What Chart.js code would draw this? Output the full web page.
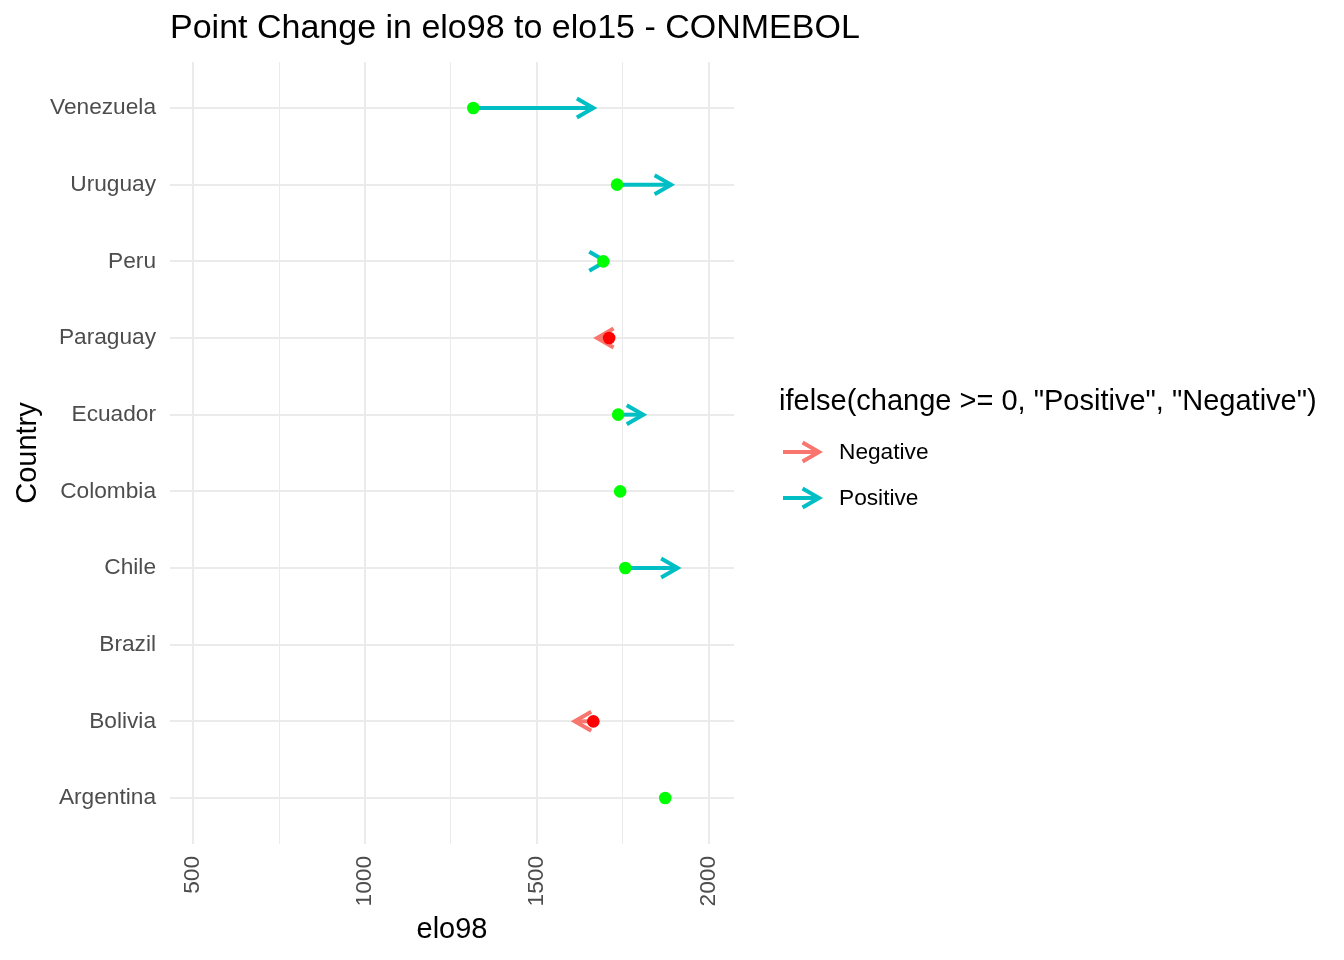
<!DOCTYPE html>
<html>
<head>
<meta charset="utf-8">
<title>Point Change in elo98 to elo15 - CONMEBOL</title>
<script src="https://cdn.jsdelivr.net/npm/chart.js@4.4.1/dist/chart.umd.min.js"></script>
<style>
  html, body { margin: 0; padding: 0; background: #ffffff; }
  #chart-wrap { width: 1344px; height: 960px; }
</style>
</head>
<body>
<div id="chart-wrap"><canvas id="elo-chart" width="1344" height="960"></canvas></div>
<script>
// countries bottom to top, as on the y axis
const countries = ["Argentina", "Bolivia", "Brazil", "Chile", "Colombia",
  "Ecuador", "Paraguay", "Peru", "Uruguay", "Venezuela"];
const elo98 = [1873, 1664, null, 1757, 1742, 1736, 1710, 1693, 1733, 1315];
const elo15 = [null, 1610, null, 1909, null, 1809, 1675, 1700, 1890, 1664];
const xTicks = [500, 750, 1000, 1250, 1500, 1750, 2000];
const legendLabels = ["Negative", "Positive"];

const chartTitle = "Point Change in elo98 to elo15 - CONMEBOL";
const legendTitle = 'ifelse(change >= 0, "Positive", "Negative")';
const positiveColor = "#00BFC4";
const negativeColor = "#F8766D";
const fontFamily = "'Liberation Sans', Arial, sans-serif";

Chart.defaults.font.family = fontFamily;

function drawArrow(ctx, x0, y, x1, color) {
  const dir = x1 >= x0 ? 1 : -1;
  const len = 19;
  const ang = Math.PI / 6;
  const bx = x1 - dir * len * Math.cos(ang);
  const dy = len * Math.sin(ang);

  ctx.save();
  ctx.strokeStyle = color;
  ctx.lineWidth = 4;
  ctx.lineCap = "butt";
  ctx.lineJoin = "miter";
  ctx.beginPath();
  ctx.moveTo(x0, y);
  ctx.lineTo(x1, y);
  ctx.stroke();
  ctx.beginPath();
  ctx.moveTo(bx, y - dy);
  ctx.lineTo(x1, y);
  ctx.lineTo(bx, y + dy);
  ctx.stroke();
  ctx.restore();
}

const arrowPlugin = {
  id: "changeArrows",
  beforeDatasetsDraw(chart) {
    const { ctx, scales: { x, y } } = chart;
    countries.forEach((country, i) => {
      const from = elo98[i];
      const to = elo15[i];
      if (from == null || to == null || from === to) return;
      const color = to >= from ? positiveColor : negativeColor;
      drawArrow(ctx, x.getPixelForValue(from), y.getPixelForValue(i + 1),
        x.getPixelForValue(to), color);
    });
  },
};

// title + arrow legend, placed like the ggplot output
const textPlugin = {
  id: "titleAndLegend",
  afterDraw(chart) {
    const ctx = chart.ctx;
    ctx.save();
    ctx.fillStyle = "#000000";
    ctx.textBaseline = "middle";
    ctx.textAlign = "left";

    ctx.font = `34px ${fontFamily}`;
    ctx.fillText(chartTitle, chart.chartArea.left, 29);

    ctx.font = `29px ${fontFamily}`;
    ctx.fillText(legendTitle, 779, 402);

    ctx.font = `22.7px ${fontFamily}`;
    legendLabels.forEach((label, i) => {
      const yPos = 452 + i * 46;
      const color = label === "Positive" ? positiveColor : negativeColor;
      drawArrow(ctx, 783, yPos, 819, color);
      ctx.fillStyle = "#000000";
      ctx.fillText(label, 839, yPos + 1);
    });
    ctx.restore();
  },
};

const points = [];
const pointColors = [];
countries.forEach((country, i) => {
  if (elo98[i] == null) return;
  points.push({ x: elo98[i], y: i + 1 });
  const negative = elo15[i] != null && elo15[i] < elo98[i];
  pointColors.push(negative ? "#FF0000" : "#00FF00");
});

const ctx = document.getElementById("elo-chart").getContext("2d");

new Chart(ctx, {
  type: "scatter",
  plugins: [arrowPlugin, textPlugin],
  data: {
    datasets: [
      {
        data: points,
        pointBackgroundColor: pointColors,
        pointBorderWidth: 0,
        pointRadius: 6.3,
        pointHoverRadius: 6.3,
      },
    ],
  },
  options: {
    responsive: false,
    animation: false,
    layout: { padding: { left: 0, right: 610, top: 62, bottom: 0 } },
    plugins: {
      legend: { display: false },
      tooltip: { enabled: false },
      title: { display: false },
    },
    scales: {
      x: {
        type: "linear",
        min: 433,
        max: 2073,
        afterBuildTicks: (scale) => {
          scale.ticks = xTicks.map((v) => ({ value: v }));
        },
        afterFit: (scale) => {
          scale.height = 116;
        },
        border: { display: false },
        grid: {
          color: "#EBEBEB",
          lineWidth: (c) => (c.tick && c.tick.value % 500 === 0 ? 2 : 1),
          drawTicks: false,
        },
        ticks: {
          autoSkip: false,
          minRotation: 90,
          maxRotation: 90,
          padding: 12,
          color: "#4D4D4D",
          font: { size: 22.7 },
          callback: (value) => (value % 500 === 0 ? String(value) : ""),
        },
        title: {
          display: true,
          text: "elo98",
          color: "#000000",
          font: { size: 29 },
          padding: { top: 0, bottom: 12.6 },
        },
      },
      y: {
        type: "linear",
        min: 0.4,
        max: 10.6,
        afterBuildTicks: (scale) => {
          scale.ticks = countries.map((c, i) => ({ value: i + 1 }));
        },
        afterFit: (scale) => {
          scale.width = 170;
        },
        border: { display: false },
        grid: { color: "#EBEBEB", lineWidth: 2, drawTicks: false },
        ticks: {
          autoSkip: false,
          padding: 14,
          color: "#4D4D4D",
          font: { size: 22.7 },
          callback: (value) => countries[value - 1] || "",
        },
        title: {
          display: true,
          text: "Country",
          color: "#000000",
          font: { size: 29 },
          padding: { top: 10.6, bottom: 0 },
        },
      },
    },
  },
});
</script>
</body>
</html>
